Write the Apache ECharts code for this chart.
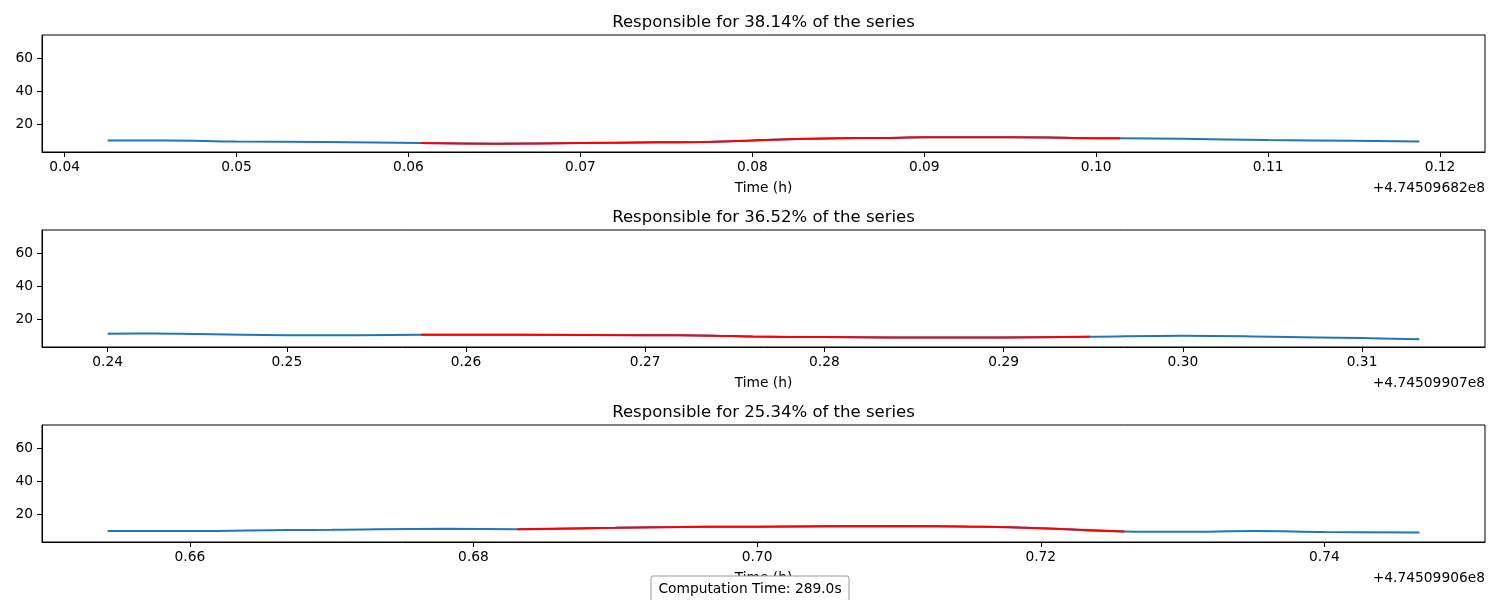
<!DOCTYPE html>
<html>
<head>
<meta charset="utf-8">
<script src="https://cdn.jsdelivr.net/npm/echarts@6/dist/echarts.min.js"></script>
<style>
html,body{margin:0;padding:0;background:#fff;}
#chart{width:1500px;height:600px;}
</style>
</head>
<body>
<div id="chart"></div>
<script>
// ---- data (time offsets in hours, relative to each panel's offset) ----
const titles = [
  'Responsible for 38.14% of the series',
  'Responsible for 36.52% of the series',
  'Responsible for 25.34% of the series'
];
const offsetLabels = ['+4.74509682e8', '+4.74509907e8', '+4.74509906e8'];
const computationLabel = 'Computation Time: 289.0s';

const time1 = [0.0425,0.0475,0.0500,0.0550,0.0580,0.0607,0.0650,0.0700,0.0745,0.0770,0.0800,0.0850,0.0875,0.0900,0.0950,0.1000,0.1014,0.1050,0.1100,0.1150,0.1188];
const value1 = [10.0,9.8,9.3,9.1,8.8,8.4,8.0,8.4,8.9,9.0,10.0,11.4,11.5,11.9,11.9,11.4,11.3,11.0,10.3,9.8,9.4];
const match1 = [5, 16]; // index range highlighted in red

const time2 = [0.2400,0.2425,0.2450,0.2500,0.2540,0.2575,0.2630,0.2700,0.2738,0.2760,0.2800,0.2870,0.2900,0.2948,0.3000,0.3050,0.3100,0.3132];
const value2 = [11.0,11.2,10.9,10.2,10.1,10.4,10.4,10.2,9.9,9.3,9.0,8.7,8.8,9.2,9.8,9.2,8.4,7.7];
const match2 = [5, 13];

const time3 = [0.6542,0.6600,0.6670,0.6700,0.6780,0.6831,0.6900,0.6930,0.7000,0.7100,0.7160,0.7200,0.7259,0.7300,0.7350,0.7400,0.7467];
const value3 = [9.6,9.6,10.3,10.4,11.0,10.8,11.6,12.0,12.3,12.7,12.2,11.3,9.4,9.2,9.6,9.0,8.7];
const match3 = [5, 12];

const xTicks1 = [0.04,0.05,0.06,0.07,0.08,0.09,0.10,0.11,0.12];
const xTicks2 = [0.24,0.25,0.26,0.27,0.28,0.29,0.30,0.31];
const xTicks3 = [0.66,0.68,0.70,0.72,0.74];
const yTicks = [20,40,60];
const yLimits = [3, 74];

// ---- build chart ----
const panels = [
  {t: time1, v: value1, m: match1, ticks: xTicks1},
  {t: time2, v: value2, m: match2, ticks: xTicks2},
  {t: time3, v: value3, m: match3, ticks: xTicks3}
];
const FONT = 'DejaVu Sans';
const gridLeft = 42, gridWidth = 1443, gridHeight = 117;
const gridTops = [35, 230, 425];

const grids = [], xAxes = [], yAxes = [], series = [], titleOpts = [], graphics = [];
panels.forEach((p, i) => {
  const lo = Math.min(...p.t), hi = Math.max(...p.t), pad = (hi - lo) * 0.05;
  grids.push({left: gridLeft, top: gridTops[i], width: gridWidth, height: gridHeight,
    show: true, borderColor: '#000', borderWidth: 1, backgroundColor: 'transparent',
    containLabel: false, outerBoundsMode: 'none'});
  xAxes.push({type: 'value', gridIndex: i, min: lo - pad, max: hi + pad,
    name: 'Time (h)', nameLocation: 'middle', nameGap: 29,
    nameTextStyle: {fontFamily: FONT, fontSize: 13.8, color: '#000'},
    axisLine: {show: true, onZero: false, lineStyle: {color: '#000', width: 1}},
    axisTick: {show: true, inside: false, length: 5, lineStyle: {color: '#000'}, customValues: p.ticks},
    axisLabel: {show: true, margin: 8, fontFamily: FONT, fontSize: 13.8, color: '#000',
      customValues: p.ticks, formatter: v => v.toFixed(2)},
    splitLine: {show: false}});
  yAxes.push({type: 'value', gridIndex: i, min: yLimits[0], max: yLimits[1],
    axisLine: {show: true, onZero: false, lineStyle: {color: '#000', width: 1}},
    axisTick: {show: true, inside: false, length: 5, lineStyle: {color: '#000'}, customValues: yTicks},
    axisLabel: {show: true, margin: 9, fontFamily: FONT, fontSize: 13.8, color: '#000',
      customValues: yTicks, formatter: v => String(v)},
    splitLine: {show: false}});
  const full = p.t.map((x, k) => [x, p.v[k]]);
  const red = full.slice(p.m[0], p.m[1] + 1);
  series.push({type: 'line', xAxisIndex: i, yAxisIndex: i, data: full, showSymbol: false,
    smooth: 0.4, lineStyle: {color: '#1f77b4', width: 2}, itemStyle: {color: '#1f77b4'}, z: 2, silent: true, animation: false});
  series.push({type: 'line', xAxisIndex: i, yAxisIndex: i, data: red, showSymbol: false,
    smooth: 0.4, lineStyle: {color: '#ff0000', width: 2}, itemStyle: {color: '#ff0000'}, z: 3, silent: true, animation: false});
  titleOpts.push({text: titles[i], left: gridLeft + gridWidth / 2, top: gridTops[i] - 21, textAlign: 'center', padding: 0,
    textStyle: {fontFamily: FONT, fontSize: 16.5, fontWeight: 'normal', color: '#000'}});
  graphics.push({type: 'text', right: 15, top: gridTops[i] + gridHeight + 29,
    style: {text: offsetLabels[i], font: '13.8px "DejaVu Sans"', fill: '#000'}});
});

graphics.push({type: 'rect', shape: {x: 651, y: 576, width: 198, height: 30, r: 2},
  style: {fill: '#fff', stroke: '#999', lineWidth: 1}, z: 100});
graphics.push({type: 'text', x: 750, y: 589, z: 101,
  style: {text: computationLabel, font: '13.8px "DejaVu Sans"', fill: '#000', align: 'center', verticalAlign: 'middle'}});

const chart = echarts.init(document.getElementById('chart'), null, {renderer: 'canvas'});
chart.setOption({
  animation: false,
  backgroundColor: '#fff',
  title: titleOpts,
  grid: grids,
  xAxis: xAxes,
  yAxis: yAxes,
  series: series,
  graphic: graphics
});
</script>
</body>
</html>
